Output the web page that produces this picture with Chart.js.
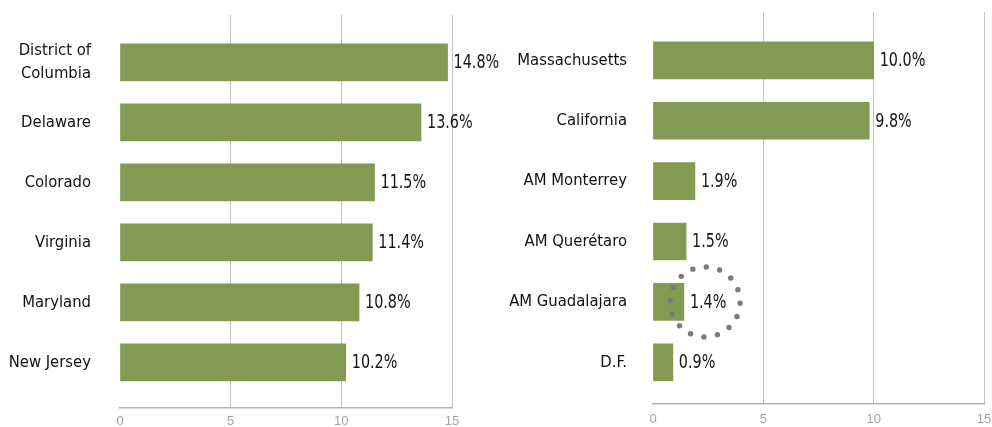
<!DOCTYPE html>
<html>
<head>
<meta charset="utf-8">
<script src="https://cdn.jsdelivr.net/npm/chart.js@4.4.1/dist/chart.umd.min.js"></script>
<style>
    html, body { margin: 0; padding: 0; background: #fff; }
    #wrap { position: relative; width: 992px; height: 427px; overflow: hidden; }
    .panel { position: absolute; top: 0; height: 427px; }
</style>
</head>
<body>
<div id="wrap">
    <div class="panel" style="left:0;width:540px"><canvas id="usChart" width="540" height="427"></canvas></div>
    <div class="panel" style="left:496px;width:496px"><canvas id="mxChart" width="496" height="427"></canvas></div>
</div>
<script>
// Datos: estados de EE.UU. (izquierda)
const usStates = [['District of', 'Columbia'], 'Delaware', 'Colorado', 'Virginia', 'Maryland', 'New Jersey'];
const usValues = [14.8, 13.6, 11.5, 11.4, 10.8, 10.2];

// Datos: comparación con México (derecha)
const mxPlaces = ['Massachusetts', 'California', 'AM Monterrey', 'AM Querétaro', 'AM Guadalajara', 'D.F.'];
const mxValues = [10.0, 9.8, 1.9, 1.5, 1.4, 0.9];

// Eje horizontal
const xTicks = [0, 5, 10, 15];

// Categoría resaltada con el círculo punteado
const highlighted = 'AM Guadalajara';

const FONT = '"DejaVu Sans Condensed", "Liberation Sans", sans-serif';
const BAR_COLOR = '#839a53';
const GRID_COLOR = '#c4c4c4';

// Etiquetas de valor al final de cada barra + círculo punteado
const valueLabels = {
    id: 'valueLabels',
    afterDatasetsDraw(chart, args, opts) {
        const { ctx } = chart;
        const meta = chart.getDatasetMeta(0);
        const values = chart.data.datasets[0].data;
        const squeeze = 0.84;
        ctx.save();
        ctx.font = '19px ' + FONT;
        meta.data.forEach((bar, i) => {
            const text = values[i].x.toFixed(1) + '%';
            const tx = bar.x + 6;
            const w = ctx.measureText(text).width * squeeze;

            // texto estrechado horizontalmente
            ctx.save();
            ctx.translate(tx, bar.y + 1);
            ctx.scale(squeeze, 1);
            ctx.fillStyle = '#151515';
            ctx.textAlign = 'left';
            ctx.textBaseline = 'middle';
            ctx.fillText(text, 0, 0);
            ctx.restore();

            if (opts.highlight !== undefined && opts.highlight === i) {
                const cx = tx + w / 2 - 3;
                const cy = bar.y;
                const r = 35;
                ctx.fillStyle = '#7a7a7a';
                for (let k = 0; k < 16; k++) {
                    const a = (-88 + k * 22.5) * Math.PI / 180;
                    ctx.beginPath();
                    ctx.arc(cx + r * Math.cos(a), cy + r * Math.sin(a), 2.7, 0, Math.PI * 2);
                    ctx.fill();
                }
            }
        });
        ctx.restore();
    }
};

function makeChart(canvasId, labels, values, cfg) {
    const ctx = document.getElementById(canvasId).getContext('2d');
    return new Chart(ctx, {
        type: 'bar',
        data: {
            datasets: [{
                data: values.map((v, i) => ({ x: v, y: i })),
                backgroundColor: BAR_COLOR,
                borderWidth: 0,
                barThickness: 37
            }]
        },
        options: {
            indexAxis: 'y',
            responsive: false,
            animation: false,
            devicePixelRatio: 1,
            layout: { padding: { top: cfg.top, right: cfg.right, bottom: 0, left: 0 } },
            plugins: {
                legend: { display: false },
                tooltip: { enabled: false },
                valueLabels: { highlight: cfg.highlight }
            },
            scales: {
                x: {
                    type: 'linear',
                    min: xTicks[0],
                    max: xTicks[xTicks.length - 1],
                    afterBuildTicks: s => { s.ticks = xTicks.map(v => ({ value: v })); },
                    afterFit: s => {
                        s.height = cfg.axisHeight;
                        s.paddingLeft = 0;
                        s.paddingRight = 0;
                    },
                    grid: {
                        color: c => (c.tick && c.tick.value === 0) ? 'rgba(0,0,0,0)' : GRID_COLOR,
                        lineWidth: 1,
                        drawTicks: false
                    },
                    border: { display: true, color: '#b4b4b4', width: 1.5 },
                    ticks: {
                        color: '#a3a3a3',
                        font: { family: '"Liberation Sans", Arial, sans-serif', size: 13 },
                        padding: cfg.tickPad,
                        maxRotation: 0
                    }
                },
                y: {
                    type: 'linear',
                    reverse: true,
                    offset: false,
                    bounds: 'data',
                    min: cfg.yMin,
                    max: cfg.yMax,
                    afterBuildTicks: s => { s.ticks = labels.map((_, i) => ({ value: i })); },
                    afterFit: s => {
                        s.width = cfg.axisWidth;
                        s.paddingTop = 0;
                        s.paddingBottom = 0;
                    },
                    grid: { display: false, drawTicks: false },
                    border: { display: false },
                    ticks: {
                        callback: v => labels[v],
                        color: '#111',
                        font: { family: FONT, size: 16.5, lineHeight: 1.42 },
                        padding: cfg.labelPad
                    }
                }
            }
        },
        plugins: [valueLabels]
    });
}

makeChart('usChart', usStates, usValues, {
    yMin: -0.79, yMax: 5.76, top: 15, right: 88,
    axisWidth: 120, labelPad: 29, axisHeight: 19, tickPad: 6
});

makeChart('mxChart', mxPlaces, mxValues, {
    yMin: -0.80, yMax: 5.69, top: 12, right: 8,
    axisWidth: 157, labelPad: 26, axisHeight: 23, tickPad: 8,
    highlight: mxPlaces.indexOf(highlighted)
});
</script>
</body>
</html>
